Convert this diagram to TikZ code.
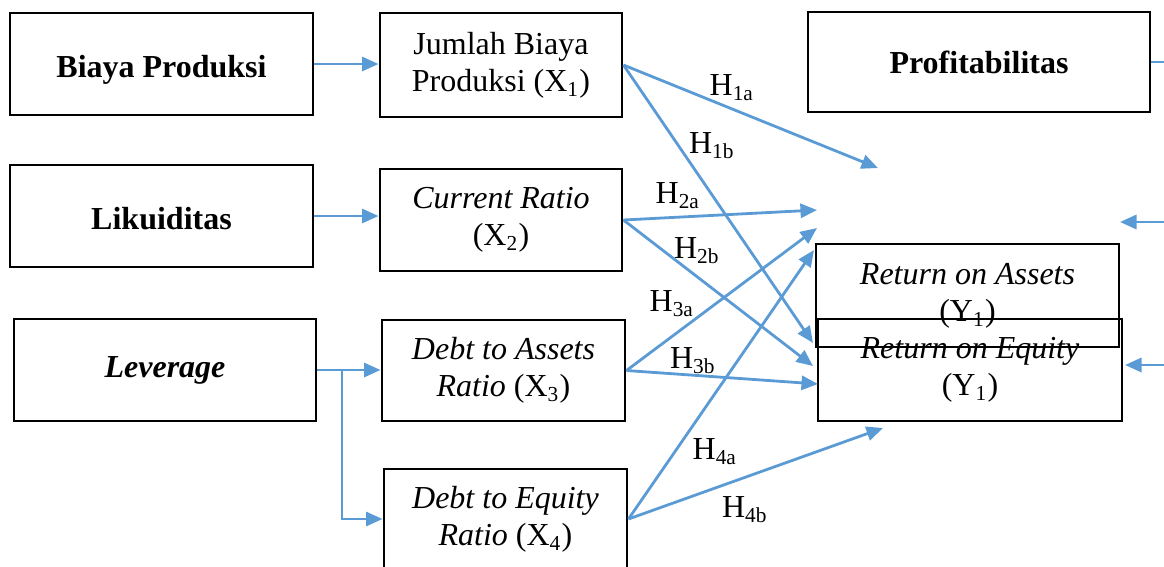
\documentclass[tikz,border=0pt]{standalone}
\usepackage{fontspec}
\setmainfont{Liberation Serif}
\usetikzlibrary{arrows.meta}
\definecolor{linkblue}{RGB}{91,155,213}
\tikzset{
	blk/.style 2 args={draw, line width=1.1pt, minimum width=#1*0.375pt, minimum height=#2*0.375pt, inner sep=0pt, align=center, font=\fontsize{12}{13.9}\selectfont},
	link/.style={draw=linkblue, line width=1.05pt},
	conn/.style={link, -{Triangle[length=6.2pt,width=5.3pt]}},
	hyp/.style={inner sep=0pt, font=\fontsize{12}{14}\selectfont}
}

\begin{document}
\begin{tikzpicture}[x=0.375pt, y=-0.375pt]
			%%%%% START %%%%%
			\useasboundingbox (0,0) rectangle (1164,566);
			\clip (0,0) rectangle (1164,566);
			
			% variables
			\node[blk={303}{102}, text height=12.4pt, text depth=2.6pt] (bp) at (161.5,64) {\textbf{Biaya Produksi}};
			\node[blk={303}{102}, text height=9.8pt, text depth=0pt] (lik) at (161.5,216) {\textbf{Likuiditas}};
			\node[blk={302}{102}] (lev) at (165,370) {\textbf{\textit{Leverage}}};
			\node[blk={342}{100}] (prof) at (979,62) {\textbf{Profitabilitas}};
			
			% indicators
			\node[blk={242}{104}] (x1) at (501,65) {Jumlah Biaya\\Produksi (X\textsubscript{1})};
			\node[blk={242}{102}] (x2) at (501,220) {\textit{Current Ratio}\\(X\textsubscript{2})};
			\node[blk={243}{101}] (x3) at (503.5,370.5) {\textit{Debt to Assets}\\\textit{Ratio} (X\textsubscript{3})};
			\node[blk={243}{100}] (x4) at (505.5,519) {\textit{Debt to Equity}\\\textit{Ratio} (X\textsubscript{4})};
			
			\node[blk={303}{103}] (roa) at (967.5,295.5) {\textit{Return on Assets}\\(Y\textsubscript{1})};
			\node[blk={304}{102}] (roe) at (970,370) {\textit{Return on Equity}\\(Y\textsubscript{1})};
			
			% arrow ends
			\coordinate (t1a) at (878,168);
			\coordinate (t1b) at (813,343);
			\coordinate (t2a) at (817,210);
			\coordinate (t2b) at (813,366);
			\coordinate (t3a) at (817,228);
			\coordinate (t3b) at (818,384);
			\coordinate (t4a) at (814,250);
			\coordinate (t4b) at (883,428);
			\coordinate (split) at (342,370);
			\coordinate (bus) at (1180,365);
			\coordinate (in1) at (1120,222);
			\coordinate (in2) at (1125,365);
			
			\draw[conn] (bp.east) -- (bp.east -| x1.west);
			\draw[conn] (lik.east) -- (lik.east -| x2.west);
			\draw[conn] (lev.east) -- (lev.east -| x3.west);
			\draw[conn] (split) |- (x4.west);
			
			\draw[conn] (x1.east) -- (t1a);
			\draw[conn] (x1.east) -- (t1b);
			\draw[conn] (x2.east) -- (t2a);
			\draw[conn] (x2.east) -- (t2b);
			\draw[conn] (x3.east) -- (t3a);
			\draw[conn] (x3.east) -- (t3b);
			\draw[conn] (x4.east) -- (t4a);
			\draw[conn] (x4.east) -- (t4b);
			
			\draw[link] (prof.east) -| (bus);
			\draw[conn] (bus |- in1) -- (in1);
			\draw[conn] (bus) -- (in2);
			
			% hypotheses
			\node[hyp] (h1a) at (732,88) {H\textsubscript{1a}};
			\node[hyp] (h1b) at (712,146) {H\textsubscript{1b}};
			\node[hyp] (h2a) at (678,196) {H\textsubscript{2a}};
			\node[hyp] (h2b) at (697,251) {H\textsubscript{2b}};
			\node[hyp] (h3a) at (672,304) {H\textsubscript{3a}};
			\node[hyp] (h3b) at (693,361) {H\textsubscript{3b}};
			\node[hyp] (h4a) at (715,452) {H\textsubscript{4a}};
			\node[hyp] (h4b) at (745,510) {H\textsubscript{4b}};
			%%%%% END %%%%%
\end{tikzpicture}
\end{document}
